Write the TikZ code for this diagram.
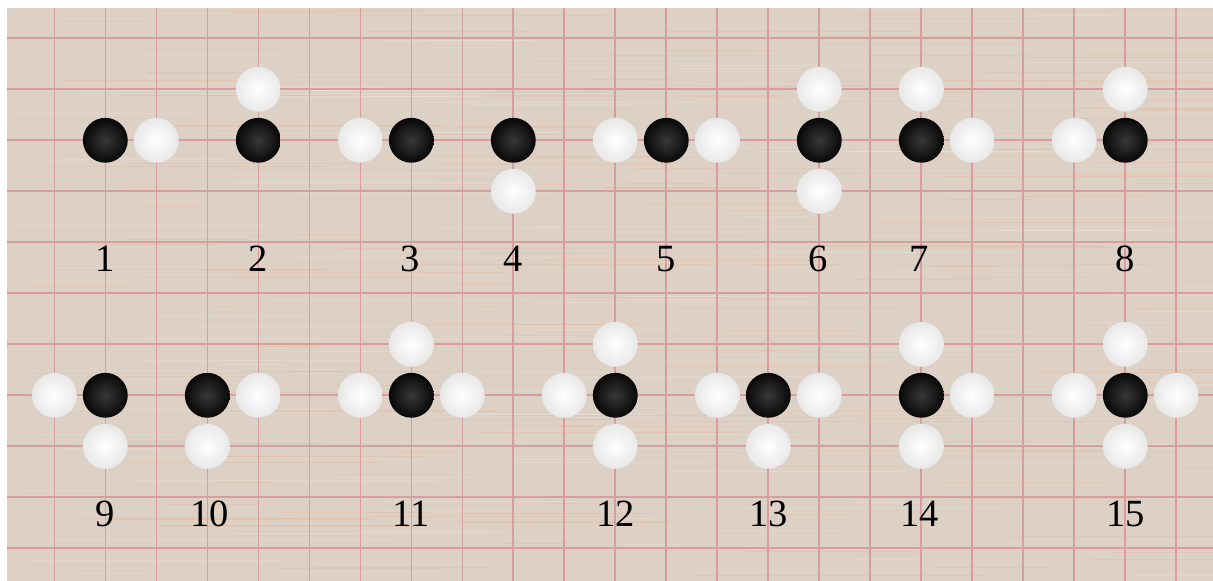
\documentclass[tikz,border=0pt]{standalone}
\usepackage{fontspec}
\setmainfont{Liberation Serif}
\usetikzlibrary{positioning}

\definecolor{woodbg}{RGB}{221,208,196}
\definecolor{woodstreak}{RGB}{228,180,142}
\definecolor{gridred}{RGB}{214,158,158}

\begin{document}
\begin{tikzpicture}[x=1cm,y=-1cm,
    bstone/.style={circle, minimum size=0.88cm, inner sep=0pt, inner color=black!78, outer color=black!97},
    wstone/.style={circle, minimum size=0.88cm, inner sep=0pt, inner color=white, outer color=black!9},
    caselabel/.style={font=\fontsize{21.5}{24}\selectfont, inner sep=0pt, anchor=base}
]

    % Frame: white margin on top and left, board runs off to the right and bottom
    \useasboundingbox[fill=white] (-1.065,-0.751) rectangle (22.72,10.64);
    \fill[woodbg] (-0.927,-0.594) rectangle (22.72,10.64);
    \clip (-0.927,-0.594) rectangle (22.72,10.64);

    % Wood grain streaks
    \pgfmathsetseed{7}
    \foreach \k in {1,...,170} {
        \pgfmathsetmacro{\yy}{-0.55+11.1*rnd}
        \pgfmathsetmacro{\xa}{-0.9+23*rnd}
        \pgfmathsetmacro{\len}{1+5*rnd}
        \draw[woodstreak, line width=0.6pt, opacity=0.3] (\xa,\yy) -- ++(\len,0);
    }
    \foreach \k in {1,...,110} {
        \pgfmathsetmacro{\yy}{-0.55+11.1*rnd}
        \pgfmathsetmacro{\xa}{-0.9+23*rnd}
        \pgfmathsetmacro{\len}{1+5*rnd}
        \draw[white, line width=0.5pt, opacity=0.15] (\xa,\yy) -- ++(\len,0);
    }

    % Grid lines
    \foreach \i in {0,...,22}
        \draw[gridred, line width=0.9pt] (\i,-0.594) -- (\i,10.64);
    \foreach \j in {0,...,10}
        \draw[gridred, line width=0.9pt] (-0.927,\j) -- (22.72,\j);

    % Black stones
    \foreach \p [count=\n] in {(1,2),(4,2),(7,2),(9,2),(12,2),(15,2),(17,2),(21,2),
                               (1,7),(3,7),(7,7),(11,7),(14,7),(17,7),(21,7)}
        \node[bstone] (b\n) at \p {};

    % White stones
    \foreach \p [count=\n] in {(2,2),(4,1),(6,2),(9,3),(11,2),(13,2),(15,1),(15,3),
                               (17,1),(18,2),(20,2),(21,1),
                               (0,7),(1,8),(4,7),(3,8),(6,7),(8,7),(7,6),
                               (10,7),(11,6),(11,8),(13,7),(15,7),(14,8),
                               (17,6),(18,7),(17,8),(20,7),(22,7),(21,6),(21,8)}
        \node[wstone] (w\n) at \p {};

    % Case numbers
    \foreach \x/\t in {1/1,4/2,6.97/3,9/4,12/5,14.97/6,16.95/7,21/8}
        \node[caselabel] (lab\t) at (\x,4.58) {\t};
    \foreach \x/\t in {1/9,3.05/10,7/11,11/12,14/13,16.97/14,21/15}
        \node[caselabel] (lab\t) at (\x,9.58) {\t};

\end{tikzpicture}
\end{document}
